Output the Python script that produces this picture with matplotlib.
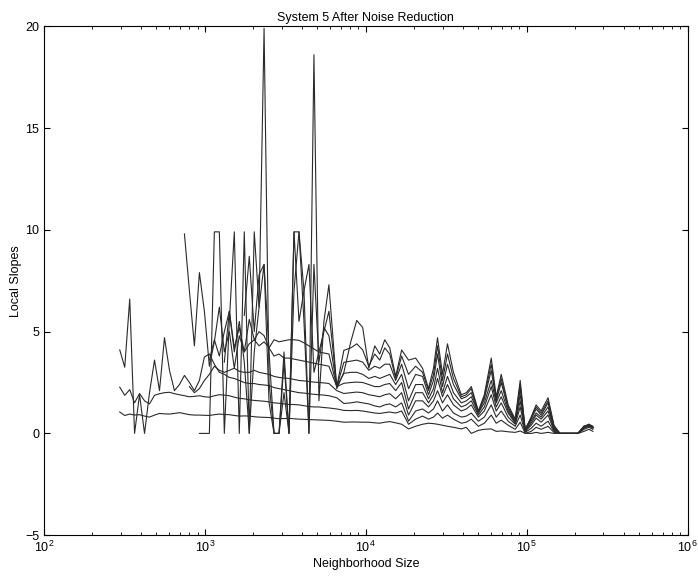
import matplotlib.pyplot as plt
import numpy as np

plt.rcParams['font.family'] = ['Liberation Sans', 'DejaVu Sans']
plt.rcParams['mathtext.default'] = 'regular'

# log10(neighborhood size) at the sampled points
log_size = [2.471, 2.502, 2.533, 2.563, 2.594, 2.625, 2.656, 2.687, 2.718, 2.749,
            2.780, 2.811, 2.842, 2.873, 2.904, 2.935, 2.966, 2.997, 3.028, 3.059,
            3.090, 3.121, 3.152, 3.183, 3.214, 3.245, 3.276, 3.307, 3.337, 3.368,
            3.399, 3.430, 3.461, 3.492, 3.523, 3.554, 3.585, 3.616, 3.647, 3.678,
            3.709, 3.740, 3.771,
            3.820, 3.864, 3.907, 3.944, 3.981, 4.019, 4.056, 4.087, 4.118, 4.149,
            4.186, 4.223, 4.266, 4.310, 4.353, 4.390, 4.421, 4.446, 4.477, 4.508,
            4.545, 4.594, 4.625, 4.656, 4.700, 4.737, 4.780, 4.811, 4.842, 4.885,
            4.929, 4.960, 4.991, 5.028, 5.059, 5.090, 5.133, 5.170, 5.207, 5.257,
            5.319, 5.356, 5.387, 5.412]

N = None

# local slopes, one list per embedding dimension
slope_m1 = [1.05, 0.88, 0.95, 0.9, 0.92, 0.85, 0.8, 0.9, 0.98, 0.96, 0.95, 0.98, 1.02, 0.97,
            0.92, 0.9, 0.9, 0.89, 0.88, 0.92, 0.95, 0.93, 0.92, 0.88, 0.85, 0.86, 0.85, 0.82,
            0.8, 0.79, 0.78, 0.75, 0.72, 0.73, 0.74, 0.72, 0.7, 0.69, 0.68, 0.67, 0.66, 0.65, 0.64,
            0.6, 0.55, 0.56, 0.56, 0.55, 0.55, 0.52, 0.5, 0.55, 0.58, 0.52, 0.45, 0.22, 0.35,
            0.45, 0.5, 0.48, 0.45, 0.4, 0.35, 0.3, 0.22, 0.3, 0.0, 0.15, 0.2, 0.22, 0.1, 0.12,
            0.08, 0.05, 0.12, 0.0, 0.0, 0.05, 0.0, 0.05, 0.0, 0.0, 0.0, 0.0, 0.1, 0.2, 0.1]

slope_m2 = [2.27, 1.87, 2.15, 1.5, 1.96, 1.6, 1.45, 1.87, 1.95, 2.0, 2.02, 1.95, 1.9, 1.85,
            1.8, 1.82, 1.85, 1.8, 1.78, 1.85, 1.9, 1.88, 1.85, 1.78, 1.72, 1.7, 1.65, 1.62,
            1.6, 1.58, 1.55, 1.5, 1.48, 1.45, 1.42, 1.42, 1.4, 1.36, 1.32, 1.3, 1.3, 1.27, 1.25,
            1.2, 1.13, 1.12, 1.13, 1.1, 1.05, 1.0, 0.98, 1.02, 1.05, 1.0, 1.1, 0.45, 0.7,
            0.85, 0.7, 0.8, 1.0, 0.75, 0.9, 0.7, 0.5, 0.55, 0.7, 0.35, 0.5, 0.9, 0.5, 0.65,
            0.4, 0.2, 0.55, 0.0, 0.1, 0.3, 0.2, 0.35, 0.05, 0.0, 0.0, 0.0, 0.2, 0.3, 0.2]

slope_m3 = [4.1, 3.25, 6.6, 0.0, 1.9, 0.0, 2.0, 3.6, 2.1, 4.7, 3.1, 2.1, 2.4, 2.85,
            2.5, 2.1, 2.6, 3.75, 3.9, 3.4, 3.0, 2.9, 2.75, 2.7, 2.6, 2.5, 2.45, 2.45,
            2.4, 2.38, 2.35, 2.25, 2.2, 2.15, 2.1, 2.05, 2.0, 1.98, 1.95, 1.92, 1.9, 1.88, 1.85,
            1.75, 1.47, 1.5, 1.55, 1.5, 1.45, 1.35, 1.3, 1.4, 1.45, 1.3, 1.5, 0.6, 1.1,
            1.2, 1.0, 1.2, 1.6, 1.1, 1.4, 1.0, 0.8, 0.85, 1.0, 0.6, 0.8, 1.4, 0.8, 1.1,
            0.6, 0.35, 0.9, 0.05, 0.25, 0.5, 0.35, 0.6, 0.1, 0.0, 0.0, 0.0, 0.25, 0.35, 0.25]

slope_m4 = [N, N, N, N, N, N, N, N, N, N, N, N, N, N,
            2.3, 2.0, 2.2, 2.6, 2.9, 3.3, 3.1, 3.0, 3.1, 3.2, 3.05, 3.0, 3.0, 3.1,
            3.0, 2.95, 2.9, 2.8, 2.75, 2.72, 2.7, 2.65, 2.6, 2.58, 2.55, 2.52, 2.5, 2.48, 2.45,
            2.1, 1.96, 2.0, 2.03, 2.0, 1.9, 1.85, 1.8, 1.9, 1.95, 1.7, 2.0, 0.9, 1.6,
            1.6, 1.3, 1.6, 2.1, 1.5, 1.9, 1.4, 1.1, 1.2, 1.4, 0.8, 1.1, 1.9, 1.1, 1.5,
            0.8, 0.45, 1.3, 0.1, 0.4, 0.75, 0.55, 0.9, 0.15, 0.0, 0.0, 0.0, 0.3, 0.4, 0.3]

slope_m5 = [N, N, N, N, N, N, N, N, N, N, N, N, N, N, N, N, N, N,
            3.6, 4.6, 3.8, 5.0, 6.0, 4.2, 5.2, 4.0, 4.4, 4.6,
            4.3, 4.5, 4.2, 3.8, 3.9, 3.7, 3.7, 3.65, 3.6, 3.55, 3.5, 3.45, 3.4, 3.35, 3.3,
            2.3, 2.46, 2.5, 2.52, 2.5, 2.4, 2.3, 2.3, 2.4, 2.45, 2.1, 2.5, 1.2, 2.0,
            2.0, 1.5, 1.9, 2.7, 1.8, 2.4, 1.7, 1.3, 1.4, 1.6, 0.9, 1.3, 2.3, 1.3, 1.8,
            1.0, 0.5, 1.6, 0.1, 0.5, 0.9, 0.7, 1.1, 0.2, 0.0, 0.0, 0.0, 0.3, 0.45, 0.35]

slope_m6 = [N, N, N, N, N, N, N, N, N, N, N, N, N,
            9.8, 7.0, 4.3, 7.9, 6.0, 3.3, 4.5, 6.2, 4.0, 5.0, 3.2, 4.8, 4.0, 5.6, 4.6,
            5.0, 4.8, 4.2, 4.6, 4.5, 4.55, 4.6, 4.6, 4.57, 4.45, 4.3, 4.15, 4.0, 3.95, 3.9,
            2.3, 2.95, 3.0, 3.0, 2.9, 2.7, 2.8, 2.7, 2.8, 2.9, 2.4, 2.9, 1.6, 2.4,
            2.4, 1.7, 2.2, 3.2, 2.0, 2.8, 2.0, 1.5, 1.6, 1.8, 1.0, 1.5, 2.6, 1.5, 2.1,
            1.1, 0.55, 1.9, 0.15, 0.6, 1.0, 0.8, 1.3, 0.25, 0.0, 0.0, 0.0, 0.3, 0.4, 0.3]

slope_m7 = [N, N, N, N, N, N, N, N, N, N, N, N, N, N, N, N,
            0.0, 0.0, 0.0, 9.9, 9.9, 0.0, 5.5, 9.9, 0.0, 9.9, 0.0, 9.9,
            6.2, 8.3, 1.5, 0.0, 0.0, 4.0, 0.0, 9.9, 9.9, 5.5, 0.0, 8.3, 3.5, 5.2, 4.8,
            2.3, 3.49, 3.55, 3.6, 3.5, 3.1, 3.3, 3.2, 3.4, 3.4, 2.6, 3.4, 2.2, 2.9,
            2.8, 1.9, 2.6, 3.9, 2.3, 3.4, 2.4, 1.7, 1.8, 2.0, 1.0, 1.7, 3.1, 1.6, 2.5,
            1.2, 0.6, 2.2, 0.15, 0.7, 1.2, 0.9, 1.5, 0.3, 0.0, 0.0, 0.0, 0.35, 0.4, 0.3]

slope_m8 = [N, N, N, N, N, N, N, N, N, N, N, N, N, N, N, N, N, N, N, N, N,
            3.5, 6.0, 4.0, 5.5, 3.5, 0.0, 4.0,
            6.2, 19.9, 2.5, 0.0, 0.0, 3.5, 0.0, 9.9, 5.5, 7.0, 8.3, 3.0, 4.0, 5.0, 6.0,
            2.3, 4.08, 4.2, 4.4, 4.1, 3.3, 3.9, 3.6, 4.2, 3.9, 2.7, 3.8, 2.9, 3.3,
            3.0, 2.1, 2.9, 4.3, 2.6, 3.9, 2.7, 1.8, 1.9, 2.2, 1.05, 1.8, 3.4, 1.7, 2.7,
            1.3, 0.65, 2.4, 0.2, 0.75, 1.3, 1.0, 1.6, 0.35, 0.0, 0.0, 0.0, 0.35, 0.45, 0.3]

slope_m9 = [N, N, N, N, N, N, N, N, N, N, N, N, N, N, N, N, N, N, N, N, N, N, N, N, N,
            5.8, 8.7, 5.0,
            7.8, 8.3, 4.0, 0.0, 0.0, 2.0, 0.0, 7.0, 9.9, 7.0, 0.0, 18.6, 1.6, 5.5, 7.3,
            2.2, 3.0, 4.5, 5.55, 5.2, 3.2, 4.3, 3.9, 4.6, 4.2, 2.8, 4.1, 3.6, 3.7,
            3.2, 2.2, 3.2, 4.7, 2.9, 4.4, 3.0, 1.9, 2.0, 2.3, 1.1, 1.9, 3.7, 1.8, 2.9,
            1.4, 0.7, 2.6, 0.2, 0.8, 1.4, 1.1, 1.75, 0.4, 0.0, 0.0, 0.0, 0.35, 0.4, 0.3]

all_slopes = [slope_m1, slope_m2, slope_m3, slope_m4, slope_m5,
              slope_m6, slope_m7, slope_m8, slope_m9]

sizes = 10 ** np.array(log_size)

fig = plt.figure(figsize=(6.98, 5.83), dpi=100)
ax = fig.add_axes([0.063, 0.082, 0.922, 0.873])

for s in all_slopes:
    ax.plot(sizes, np.array(s, dtype=float), color='#2a2a2a', lw=0.8)

ax.set_xscale('log')
ax.set_xlim(1e2, 1e6)
ax.set_ylim(-5, 20)
ax.set_yticks([-5, 0, 5, 10, 15, 20])
ax.tick_params(which='both', direction='in', top=True, right=True, labelsize=9)
ax.tick_params(which='major', length=4)
ax.tick_params(which='minor', length=2)

ax.set_title('System 5 After Noise Reduction', fontsize=9, pad=4)
ax.set_xlabel('Neighborhood Size', fontsize=9, labelpad=2)
ax.set_ylabel('Local Slopes', fontsize=9, labelpad=2)

fig.savefig('out.png', dpi=100)
